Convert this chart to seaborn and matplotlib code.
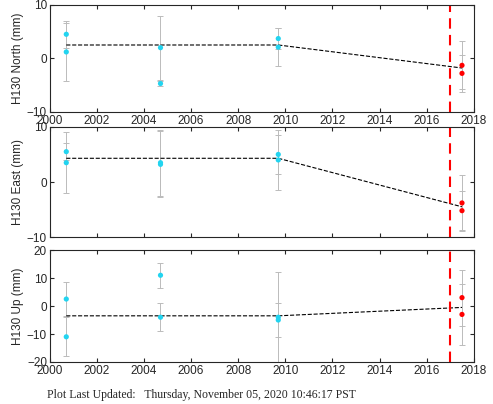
import matplotlib
matplotlib.use("Agg")
import matplotlib.pyplot as plt
import seaborn as sns

sns.set_style("ticks")
plt.rcParams['font.family'] = ['Liberation Sans', 'DejaVu Sans']

t_cyan = [2000.7, 2000.7, 2004.7, 2004.7, 2009.7, 2009.7]
t_red = [2017.5, 2017.5]
north = [4.5, 1.2, 2.0, -4.7, 3.7, 2.1]
north_err = [2.5, 5.5, 6.0, 0.5, 2.0, 3.5]
north_red = [-1.3, -2.8]
north_red_err = [4.5, 3.5]
east = [5.5, 3.5, 3.5, 3.2, 5.0, 4.0]
east_err = [1.5, 5.5, 6.0, 6.0, 3.5, 5.5]
east_red = [-3.8, -5.2]
east_red_err = [5.0, 3.5]
up = [2.5, -11.0, 11.0, -4.0, -4.0, -5.0]
up_err = [6.0, 7.0, 4.5, 5.0, 16.0, 6.0]
up_red = [3.0, -3.0]
up_red_err = [10.0, 11.0]
trend_t = [2000.7, 2009.7, 2017.5]
trend_n = [2.5, 2.5, -1.8]
trend_e = [4.3, 4.3, -4.5]
trend_u = [-3.5, -3.5, -0.5]
ylabels = ["H130 North (mm)", "H130 East (mm)", "H130 Up (mm)"]
ylims = [(-10, 10), (-10, 10), (-20, 20)]
yticks = [[-10, 0, 10], [-10, 0, 10], [-20, -10, 0, 10, 20]]

fig = plt.figure(figsize=(4.93, 4.04), dpi=100)
boxes = [[0.101, 0.723, 0.86, 0.265], [0.101, 0.413, 0.86, 0.273], [0.101, 0.104, 0.86, 0.277]]
data = [(north, north_err, north_red, north_red_err, trend_n),
        (east, east_err, east_red, east_red_err, trend_e),
        (up, up_err, up_red, up_red_err, trend_u)]
for i, (vals, errs, rv, re, tr) in enumerate(data):
    ax = fig.add_axes(boxes[i])
    ax.errorbar(t_cyan, vals, yerr=errs, fmt='none', ecolor='#bbbbbb', elinewidth=0.7, capsize=2, capthick=0.7)
    ax.errorbar(t_red, rv, yerr=re, fmt='none', ecolor='#bbbbbb', elinewidth=0.7, capsize=2, capthick=0.7)
    sns.lineplot(x=trend_t, y=tr, ax=ax, color='k', linestyle='--', linewidth=0.8)
    sns.scatterplot(x=t_cyan, y=vals, ax=ax, color='#22d4f0', s=14, edgecolor='none', zorder=5)
    sns.scatterplot(x=t_red, y=rv, ax=ax, color='red', s=14, edgecolor='none', zorder=5)
    ax.axvline(2017.0, color='red', linestyle='--', linewidth=1.5, dashes=(5, 3))
    ax.set_xlim(2000, 2018)
    ax.set_ylim(*ylims[i])
    ax.set_yticks(yticks[i])
    ax.set_xticks(range(2000, 2019, 2))
    ax.set_ylabel(ylabels[i], fontsize=8.5, labelpad=2)
    ax.tick_params(labelsize=8.5, direction='in', length=3, top=True, right=True, pad=2)
    if i == 1:
        ax.set_xticklabels([])
    for s in ax.spines.values():
        s.set_linewidth(0.8)
fig.text(0.095, 0.015, "Plot Last Updated:   Thursday, November 05, 2020 10:46:17 PST",
         fontsize=8.5, family=['Liberation Serif', 'DejaVu Serif'])
fig.savefig("out.png", dpi=100)
